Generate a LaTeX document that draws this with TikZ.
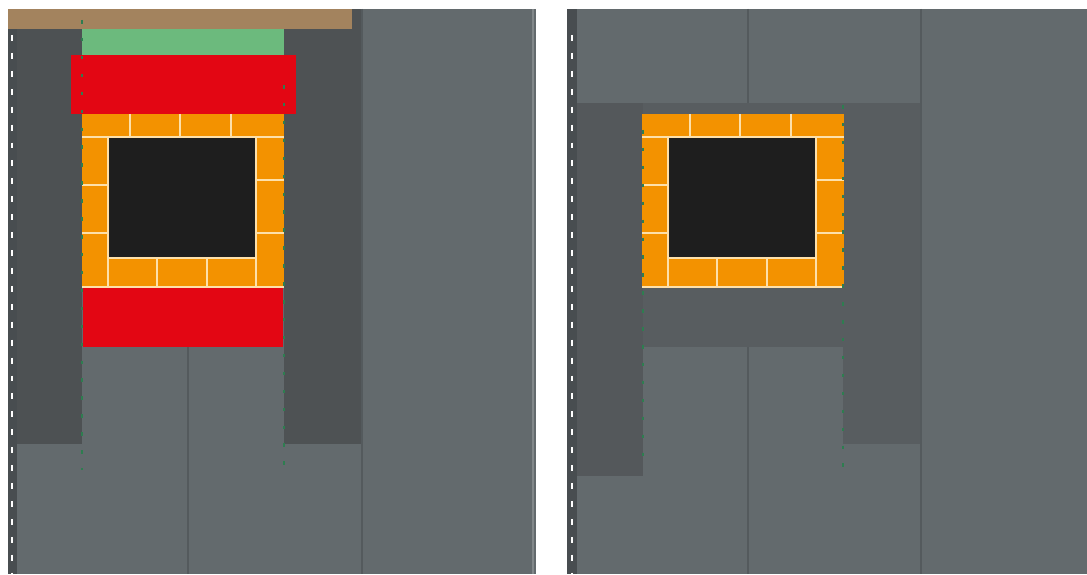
\documentclass[tikz,border=0pt]{standalone}
\usepackage{tikz}
\definecolor{wallgray}{RGB}{99,106,109}
\definecolor{colgray}{RGB}{77,81,83}
\definecolor{bandgray}{RGB}{88,93,96}
\definecolor{seamgray}{RGB}{84,90,93}
\definecolor{edgegray}{RGB}{72,77,80}
\definecolor{beam}{RGB}{163,131,94}
\definecolor{lintel}{RGB}{108,186,125}
\definecolor{sill}{RGB}{227,6,19}
\definecolor{brick}{RGB}{243,146,0}
\definecolor{joint}{RGB}{253,224,170}
\definecolor{hole}{RGB}{30,30,30}
\definecolor{guide}{RGB}{46,125,80}

\begin{document}
\begin{tikzpicture}[x=0.02cm,y=-0.02cm,
    mortar/.style={draw=joint,line width=1pt},
    seam/.style={draw=seamgray,line width=1.2pt},
    guideline/.style={draw=guide,line width=1.2pt,dash pattern=on 2pt off 8.2pt},
    edgeline/.style={draw=white,line width=1.4pt,dash pattern=on 3.4pt off 6.8pt}]

    \useasboundingbox[fill=white] (0,0) rectangle (1087,574);

    % left panel
    \fill[wallgray] (8,9) rectangle (536,574);
    \fill[colgray] (8,29) rectangle (82,444);
    \fill[colgray!95!wallgray] (284,9) rectangle (362,444);
    \fill[beam] (8,9) rectangle (352,29);
    \fill[lintel] (82,29) rectangle (284,55);
    \fill[sill] (71,55) rectangle (296,114);
    \fill[sill] (83,287) rectangle (283,347);
    \draw[seam] (188,347) -- (188,574);
    \draw[seam] (362,9) -- (362,574);
    \draw[draw=wallgray!80!white,line width=1.5pt] (533,9) -- (533,574);

    % right panel
    \fill[wallgray] (567,9) rectangle (1087,574);
    \fill[bandgray] (567,103) rectangle (921,347);
    \fill[colgray!70!wallgray] (567,103) rectangle (643,476);
    \fill[bandgray] (843,103) rectangle (921,444);
    \draw[seam] (748,9) -- (748,103);
    \draw[seam] (748,347) -- (748,574);
    \draw[seam] (921,9) -- (921,574);

    % brick frames
    \foreach \ox in {0,560}{
      \fill[brick] (\ox+82,114) rectangle (\ox+284,287);
      \fill[hole] (\ox+108,137) rectangle (\ox+256,258);
      \draw[mortar] (\ox+82,137) -- (\ox+284,137);
      \draw[mortar] (\ox+108,137) -- (\ox+108,287);
      \draw[mortar] (\ox+256,137) -- (\ox+256,287);
      \draw[mortar] (\ox+108,258) -- (\ox+256,258);
      \draw[mortar] (\ox+82,287) -- (\ox+284,287);
      \foreach \bx in {130,180,231}
        \draw[mortar] (\ox+\bx,114) -- (\ox+\bx,137);
      \foreach \bx in {157,207}
        \draw[mortar] (\ox+\bx,258) -- (\ox+\bx,287);
      \foreach \by in {185,233}
        \draw[mortar] (\ox+82,\by) -- (\ox+108,\by);
      \foreach \by in {180,233}
        \draw[mortar] (\ox+256,\by) -- (\ox+284,\by);
    }

    % green guides
    \draw[guideline] (82,20) -- (82,470);
    \draw[guideline] (284,85) -- (284,477);
    \draw[guideline] (643,130) -- (643,468);
    \draw[guideline] (843,105) -- (843,475);

    % panel edges
    \fill[edgegray] (8,29) rectangle (17,574);
    \draw[edgeline] (12,35) -- (12,574);
    \fill[edgegray] (567,9) rectangle (577,574);
    \draw[edgeline] (572,35) -- (572,574);

\end{tikzpicture}
\end{document}
